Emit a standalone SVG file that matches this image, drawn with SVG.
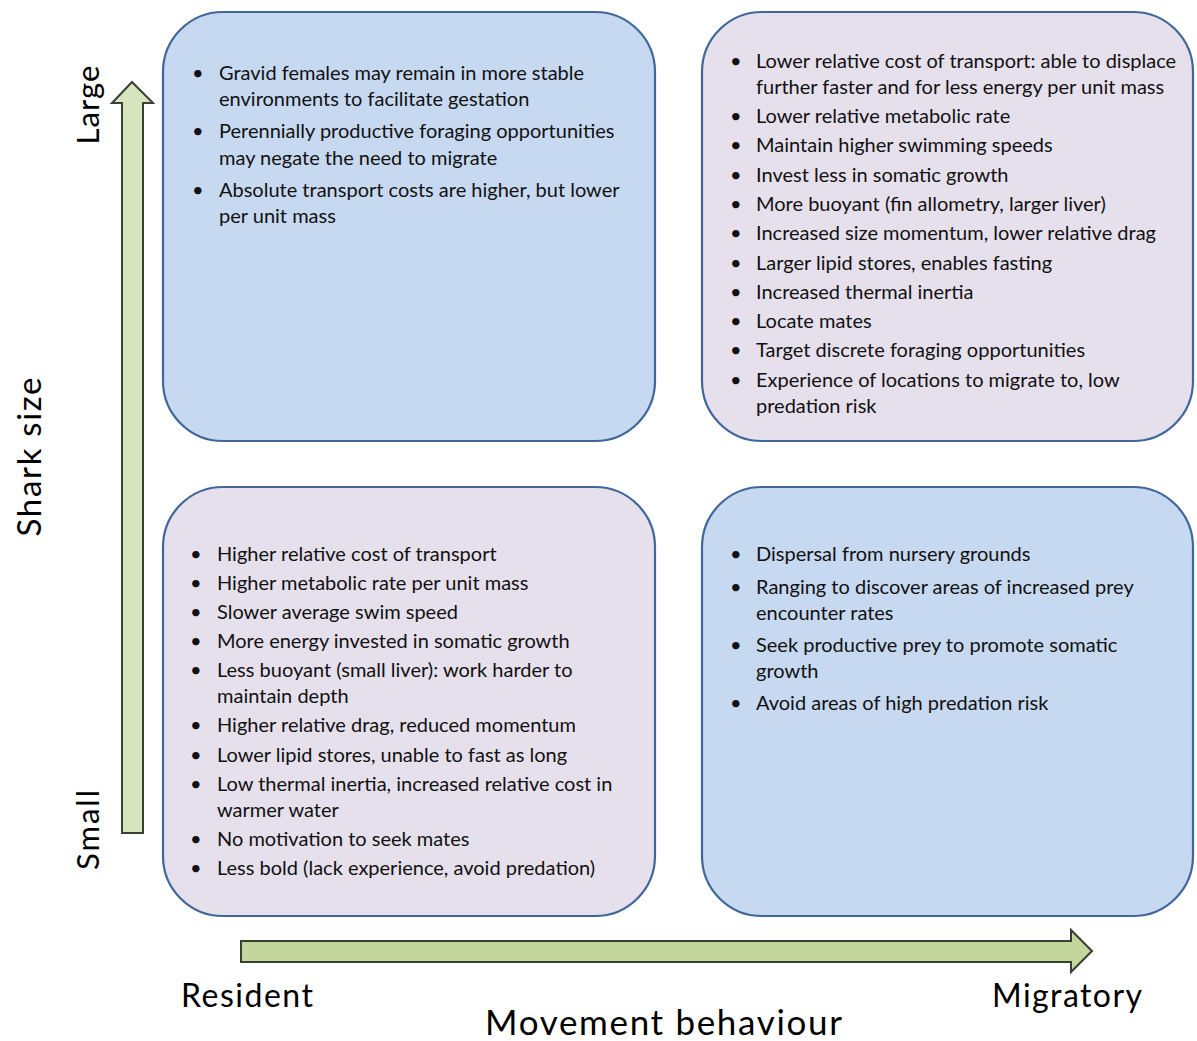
<svg xmlns="http://www.w3.org/2000/svg" width="1197" height="1041" viewBox="0 0 1197 1041">
<style>
.box{stroke:#41679a;stroke-width:2.2}
.blue{fill:#c6d9f1}
.purple{fill:#e5e0ec}
.t{font-family:Lato,"Open Sans",sans-serif;font-size:20px;fill:#111}
.ax{font-family:Lato,"Open Sans",sans-serif;fill:#000}
.arrow{stroke:#3a3f33;stroke-width:2}
</style>
<rect width="1197" height="1041" fill="#fff"/>
<g id="connectors">
<polygon class="arrow" fill="#d7e4bd" points="122,833 143,833 143,103 153,103 132,82 112,103 122,103"/>
<polygon class="arrow" fill="#c3d69b" points="241,941 1071,941 1071,930 1092,951 1071,972 1071,962 241,962"/>
</g>
<g id="large-resident">
<rect class="box blue" x="163" y="12" width="492" height="429" rx="60"/>
<g class="t">
<text x="192" y="80">•</text><text x="219" y="80">Gravid females may remain in more stable</text>
<text x="219" y="106">environments to facilitate gestation</text>
<text x="192" y="138">•</text><text x="219" y="138">Perennially productive foraging opportunities</text>
<text x="219" y="165">may negate the need to migrate</text>
<text x="192" y="197">•</text><text x="219" y="197">Absolute transport costs are higher, but lower</text>
<text x="219" y="223">per unit mass</text>
</g>
</g>
<g id="large-migratory">
<rect class="box purple" x="702" y="12" width="491" height="429" rx="60"/>
<g class="t">
<text x="730" y="68">•</text><text x="756" y="68">Lower relative cost of transport: able to displace</text>
<text x="756" y="94">further faster and for less energy per unit mass</text>
<text x="730" y="123">•</text><text x="756" y="123">Lower relative metabolic rate</text>
<text x="730" y="152">•</text><text x="756" y="152">Maintain higher swimming speeds</text>
<text x="730" y="182">•</text><text x="756" y="182">Invest less in somatic growth</text>
<text x="730" y="211">•</text><text x="756" y="211">More buoyant (fin allometry, larger liver)</text>
<text x="730" y="240">•</text><text x="756" y="240">Increased size momentum, lower relative drag</text>
<text x="730" y="270">•</text><text x="756" y="270">Larger lipid stores, enables fasting</text>
<text x="730" y="299">•</text><text x="756" y="299">Increased thermal inertia</text>
<text x="730" y="328">•</text><text x="756" y="328">Locate mates</text>
<text x="730" y="357">•</text><text x="756" y="357">Target discrete foraging opportunities</text>
<text x="730" y="387">•</text><text x="756" y="387">Experience of locations to migrate to, low</text>
<text x="756" y="413">predation risk</text>
</g>
</g>
<g id="small-resident">
<rect class="box purple" x="163" y="487" width="492" height="429" rx="60"/>
<g class="t">
<text x="190" y="561">•</text><text x="217" y="561">Higher relative cost of transport</text>
<text x="190" y="590">•</text><text x="217" y="590">Higher metabolic rate per unit mass</text>
<text x="190" y="619">•</text><text x="217" y="619">Slower average swim speed</text>
<text x="190" y="648">•</text><text x="217" y="648">More energy invested in somatic growth</text>
<text x="190" y="677">•</text><text x="217" y="677">Less buoyant (small liver): work harder to</text>
<text x="217" y="703">maintain depth</text>
<text x="190" y="732">•</text><text x="217" y="732">Higher relative drag, reduced momentum</text>
<text x="190" y="762">•</text><text x="217" y="762">Lower lipid stores, unable to fast as long</text>
<text x="190" y="791">•</text><text x="217" y="791">Low thermal inertia, increased relative cost in</text>
<text x="217" y="817">warmer water</text>
<text x="190" y="846">•</text><text x="217" y="846">No motivation to seek mates</text>
<text x="190" y="875">•</text><text x="217" y="875">Less bold (lack experience, avoid predation)</text>
</g>
</g>
<g id="small-migratory">
<rect class="box blue" x="702" y="487" width="491" height="429" rx="60"/>
<g class="t">
<text x="730" y="561">•</text><text x="756" y="561">Dispersal from nursery grounds</text>
<text x="730" y="594">•</text><text x="756" y="594">Ranging to discover areas of increased prey</text>
<text x="756" y="620">encounter rates</text>
<text x="730" y="652">•</text><text x="756" y="652">Seek productive prey to promote somatic</text>
<text x="756" y="678">growth</text>
<text x="730" y="710">•</text><text x="756" y="710">Avoid areas of high predation risk</text>
</g>
</g>
<g id="labels" class="ax">
<text font-size="31" textLength="79" text-anchor="middle" transform="translate(99,105) rotate(-90)">Large</text>
<text font-size="31" textLength="80" text-anchor="middle" transform="translate(99,830) rotate(-90)">Small</text>
<text font-size="33" textLength="159" text-anchor="middle" transform="translate(41,457) rotate(-90)">Shark size</text>
<text font-size="32" textLength="132" x="181" y="1007">Resident</text>
<text font-size="32" textLength="150" x="992" y="1007">Migratory</text>
<text font-size="35" textLength="357" x="485" y="1035">Movement behaviour</text>
</g>
</svg>
